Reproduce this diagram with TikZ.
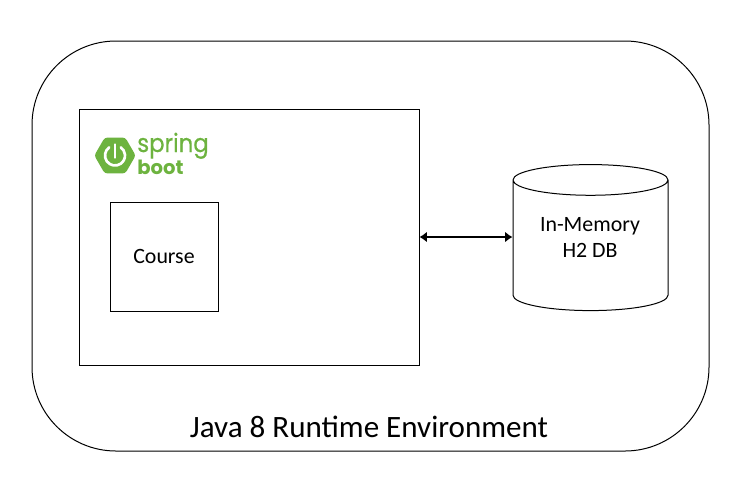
\documentclass[tikz,border=0pt]{standalone}
\usepackage{fontspec}
\setmainfont{Carlito}
\newfontfamily\logofont{Poppins}
\newfontfamily\logothick[FakeBold=0.5,FakeStretch=0.9]{Poppins}
\usetikzlibrary{positioning, arrows.meta, shapes.geometric}
\definecolor{springgreen}{RGB}{109,179,63}

\begin{document}
\begin{tikzpicture}[
		x=0.75pt,
		y=-0.75pt,
		>={Latex[length=5.5pt,width=8pt]},
		box/.style={draw, rectangle, line width=0.75pt, inner sep=0pt}
	]
	\useasboundingbox (0, 0) rectangle (741, 476);

	\node[box, rounded corners=63pt, minimum width=507.75pt, minimum height=307.5pt] (runtime) at (370.5, 246) {};
	\node[box, minimum width=255pt, minimum height=192pt] (app) at (249, 237) {};
	\node[box, minimum width=81pt, minimum height=81.75pt, font=\fontsize{16.4}{20}\selectfont] (course) at (164, 256.5) {Course};
	\node[draw, cylinder, shape border rotate=90, aspect=0.36, line width=0.75pt, inner sep=0pt, minimum width=116.25pt, minimum height=109.5pt, font=\fontsize{14}{19.5}\selectfont] (h2db) at (590.5, 245.5) {\phantom{In-Memory}};
	\node[align=center, font=\fontsize{16.4}{19.5}\selectfont] (h2dblabel) at (590, 237) {In-Memory\\H2 DB};
	\node[font=\fontsize{23.3}{28}\selectfont] (runtimelabel) at (369, 427) {Java 8 Runtime Environment};

	% spring boot logo
	\node[regular polygon, regular polygon sides=6, fill=springgreen, rounded corners=2pt, inner sep=0pt, minimum size=31pt] (logo) at (115, 155.5) {};
	\draw[white, line width=2pt, line cap=round] (logo.center) ++(125:7.5pt) arc[start angle=125, end angle=415, radius=7.5pt];
	\draw[white, line width=2pt, line cap=round] (logo.center) ++(0, -11) -- ++(0, 13);
	\node[text=springgreen, anchor=base west, inner sep=0pt, font=\logothick\fontsize{19}{19}\selectfont] (spring) at (137, 152) {spring};
	\node[text=springgreen, anchor=base west, inner sep=0pt, font=\logofont\fontsize{14.7}{16}\bfseries\selectfont] (boot) at (137, 174) {boot};

	\draw [<->, line width=1.1pt] (app.east) -- (app.east -| h2db.west);

	\end{tikzpicture}
\end{document}
